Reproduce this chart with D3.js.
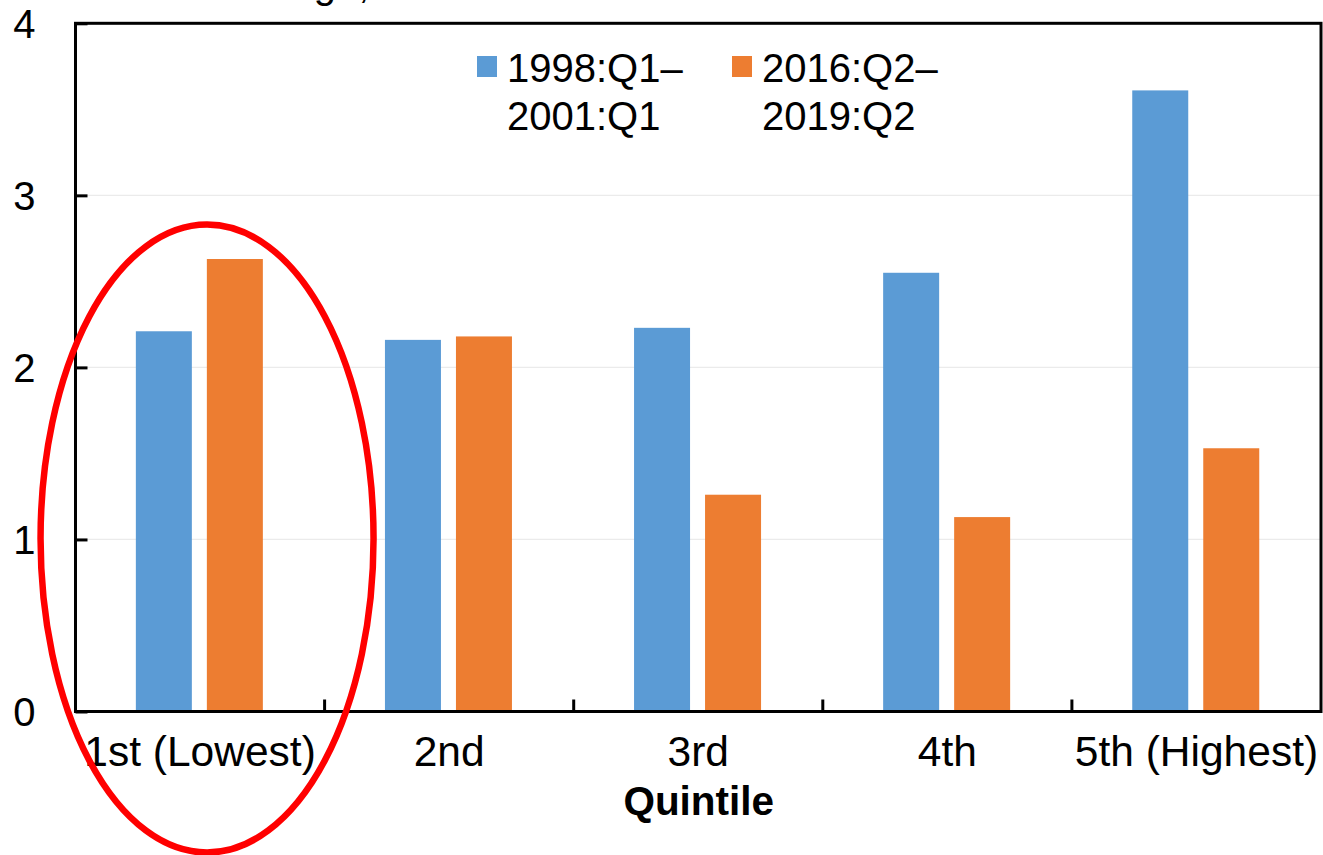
<!DOCTYPE html>
<html>
<head>
<meta charset="utf-8">
<script src="https://cdn.jsdelivr.net/npm/d3@7"></script>
<style>
  html, body { margin: 0; padding: 0; background: #fff; }
  svg { display: block; font-family: "Liberation Sans", Arial, sans-serif; }
</style>
</head>
<body>
<svg id="chart" width="1323" height="855"></svg>
<script>
// ---- data ----
const categories = ["1st (Lowest)", "2nd", "3rd", "4th", "5th (Highest)"];
const seriesNames = ["1998:Q1\u2013|2001:Q1", "2016:Q2\u2013|2019:Q2"];
const series1998 = [2.21, 2.16, 2.23, 2.55, 3.61];
const series2016 = [2.63, 2.18, 1.26, 1.13, 1.53];
const yTicks = [0, 1, 2, 3, 4];
const yTitle = "Percent change, annual rate";
const xTitle = "Quintile";

const colors = ["#5B9BD5", "#ED7D31"];

(function () {
const svg = d3.select("#chart");
const mLeft = 75.5, mRight = 1321, mTop = 23.3, mBottom = 711.5;

const x = d3.scaleBand().domain(categories).range([mLeft, mRight]).padding(0);
const y = d3.scaleLinear().domain([0, 4]).range([mBottom, mTop]);
const groupW = 127;
const x1 = d3.scaleBand().domain([0, 1]).range([-groupW / 2, groupW / 2])
  .paddingInner(0.2113).paddingOuter(0);

// gridlines
svg.append("g").selectAll("line").data(yTicks.filter(d => d > 0 && d < 4)).join("line")
  .attr("x1", mLeft).attr("x2", mRight)
  .attr("y1", d => y(d)).attr("y2", d => y(d))
  .attr("stroke", "#ebebeb").attr("stroke-width", 1.2);

// bars
const rows = categories.map((c, i) => ({ c, vals: [series1998[i], series2016[i]] }));
const g = svg.append("g");
rows.forEach(r => {
  r.vals.forEach((v, s) => {
    g.append("rect")
      .attr("x", x(r.c) + x.bandwidth() / 2 - 0.7 + x1(s))
      .attr("y", y(v))
      .attr("width", x1.bandwidth())
      .attr("height", y(0) - y(v))
      .attr("fill", colors[s]);
  });
});

// frame
svg.append("rect").attr("x", mLeft).attr("y", mTop)
  .attr("width", mRight - mLeft).attr("height", mBottom - mTop)
  .attr("fill", "none").attr("stroke", "#000").attr("stroke-width", 3);

// y axis ticks (inside)
const yAxis = d3.axisLeft(y).tickValues(yTicks).tickFormat(d3.format("d"))
  .tickSizeInner(-12).tickSizeOuter(0).tickPadding(40);
const ya = svg.append("g").attr("transform", `translate(${mLeft},0)`).call(yAxis);
ya.select(".domain").remove();
ya.selectAll(".tick line").attr("stroke", "#000").attr("stroke-width", 3);
ya.selectAll(".tick text").attr("font-size", 40).attr("fill", "#000")
  .attr("font-family", "Liberation Sans, Arial, sans-serif")
  .attr("dy", "0.35em");

// x axis boundary ticks (inside, pointing up)
const bounds = categories.slice(1).map(c => x(c));
svg.append("g").selectAll("line").data(bounds).join("line")
  .attr("x1", d => d).attr("x2", d => d)
  .attr("y1", mBottom).attr("y2", mBottom - 12)
  .attr("stroke", "#000").attr("stroke-width", 3);

// x labels
const xa = d3.axisBottom(x).tickSize(0).tickPadding(24);
const xg = svg.append("g").attr("transform", `translate(0,${mBottom})`).call(xa);
xg.select(".domain").remove();
xg.selectAll(".tick text").attr("font-size", 42.5).attr("fill", "#000")
  .attr("font-family", "Liberation Sans, Arial, sans-serif");

// x title
svg.append("text").attr("x", (mLeft + mRight) / 2 + 0.5).attr("y", 815)
  .attr("text-anchor", "middle").attr("font-size", 40.5).attr("font-weight", "bold")
  .text(xTitle);

// y title (cut off at top)
svg.append("text").attr("x", 78).attr("y", -2)
  .attr("font-size", 40).text(yTitle);

// legend
const legendX = [477, 732];
seriesNames.forEach((name, i) => {
  svg.append("rect").attr("x", legendX[i]).attr("y", 56).attr("width", 20).attr("height", 21)
    .attr("fill", colors[i]);
  const parts = name.split("|");
  const t = svg.append("text").attr("x", legendX[i] + 30).attr("y", 82).attr("font-size", 40);
  parts.forEach((p, j) => {
    t.append("tspan").attr("x", legendX[i] + 30).attr("dy", j === 0 ? 0 : 48).text(p);
  });
});

// red ellipse highlight
svg.append("ellipse").attr("cx", x(categories[0]) + x.bandwidth() / 2 + 7).attr("cy", 538.5)
  .attr("rx", 166.5).attr("ry", 314)
  .attr("fill", "none").attr("stroke", "#FF0000").attr("stroke-width", 6.5);
})();
</script>
</body>
</html>
